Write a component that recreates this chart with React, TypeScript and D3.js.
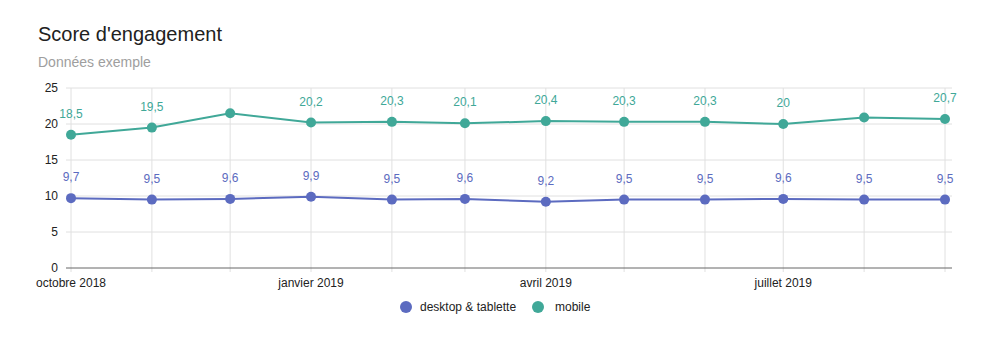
import React from "react";
import * as d3 from "d3";

const months: string[] = [
  "2018-10-01", "2018-11-01", "2018-12-01", "2019-01-01", "2019-02-01", "2019-03-01",
  "2019-04-01", "2019-05-01", "2019-06-01", "2019-07-01", "2019-08-01", "2019-09-01",
];
const desktop: number[] = [9.7, 9.5, 9.6, 9.9, 9.5, 9.6, 9.2, 9.5, 9.5, 9.6, 9.5, 9.5];
const mobile: number[] = [18.5, 19.5, 21.5, 20.2, 20.3, 20.1, 20.4, 20.3, 20.3, 20, 20.9, 20.7];
const mobileLabelShown: boolean[] = [true, true, false, true, true, true, true, true, true, true, false, true];
const yTicks: number[] = [0, 5, 10, 15, 20, 25];
const xTickLabels: { date: string; label: string }[] = [
  { date: "2018-10-01", label: "octobre 2018" },
  { date: "2019-01-01", label: "janvier 2019" },
  { date: "2019-04-01", label: "avril 2019" },
  { date: "2019-07-01", label: "juillet 2019" },
];
const seriesNames: string[] = ["desktop & tablette", "mobile"];

const W = 988;
const H = 340;
const FONT = "'Liberation Sans', Arial, sans-serif";
const C_DESK = "#5C6BC0";
const C_MOB = "#40A898";

export default function App() {
  const parse = d3.timeParse("%Y-%m-%d");
  const dates = months.map((m) => parse(m) as Date);
  const x = d3.scaleTime().domain([dates[0], dates[dates.length - 1]]).range([71, 945]);
  const y = d3.scaleLinear().domain([0, 25]).range([268, 88]);
  const plotLeft = 66;
  const plotRight = 952;

  const line = d3
    .line<number>()
    .x((_, i) => x(dates[i]))
    .y((d) => y(d));

  const fmt = (v: number) => String(v).replace(".", ",");

  return (
    <svg width={W} height={H} style={{ position: "absolute", left: 0, top: 0, background: "#fff" }} fontFamily={FONT}>
      <text x={38} y={41} fontSize={20} fill="#212121">Score d'engagement</text>
      <text x={38} y={67} fontSize={14} fill="#9e9e9e">Données exemple</text>

      {yTicks.map((t) => (
        <g key={t}>
          {t > 0 && <line x1={plotLeft} x2={plotRight} y1={y(t)} y2={y(t)} stroke="#e0e0e0" strokeWidth={1} />}
          <text x={58} y={y(t) + 4} fontSize={12} textAnchor="end" fill="#222">{t}</text>
        </g>
      ))}
      {dates.map((d, i) => (
        <line key={i} x1={x(d)} x2={x(d)} y1={88} y2={272} stroke="#e0e0e0" strokeWidth={1} />
      ))}
      <line x1={plotLeft} x2={plotRight} y1={y(0)} y2={y(0)} stroke="#666" strokeWidth={1} />

      {xTickLabels.map((t) => (
        <text key={t.label} x={x(parse(t.date) as Date)} y={287} fontSize={12} textAnchor="middle" fill="#222">
          {t.label}
        </text>
      ))}

      <path d={line(desktop) || ""} fill="none" stroke={C_DESK} strokeWidth={2} />
      <path d={line(mobile) || ""} fill="none" stroke={C_MOB} strokeWidth={2} />
      {desktop.map((v, i) => (
        <g key={"d" + i}>
          <circle cx={x(dates[i])} cy={y(v)} r={5} fill={C_DESK} />
          <text x={x(dates[i])} y={y(v) - 17} fontSize={12} textAnchor="middle" fill={C_DESK}>{fmt(v)}</text>
        </g>
      ))}
      {mobile.map((v, i) => (
        <g key={"m" + i}>
          <circle cx={x(dates[i])} cy={y(v)} r={5} fill={C_MOB} />
          {mobileLabelShown[i] && (
            <text x={x(dates[i])} y={y(v) - 17} fontSize={12} textAnchor="middle" fill={C_MOB}>{fmt(v)}</text>
          )}
        </g>
      ))}

      <g>
        <circle cx={406} cy={307} r={6} fill={C_DESK} />
        <text x={420} y={311} fontSize={12} fill="#222">{seriesNames[0]}</text>
        <circle cx={538} cy={307} r={6} fill={C_MOB} />
        <text x={555} y={311} fontSize={12} fill="#222">{seriesNames[1]}</text>
      </g>
    </svg>
  );
}
